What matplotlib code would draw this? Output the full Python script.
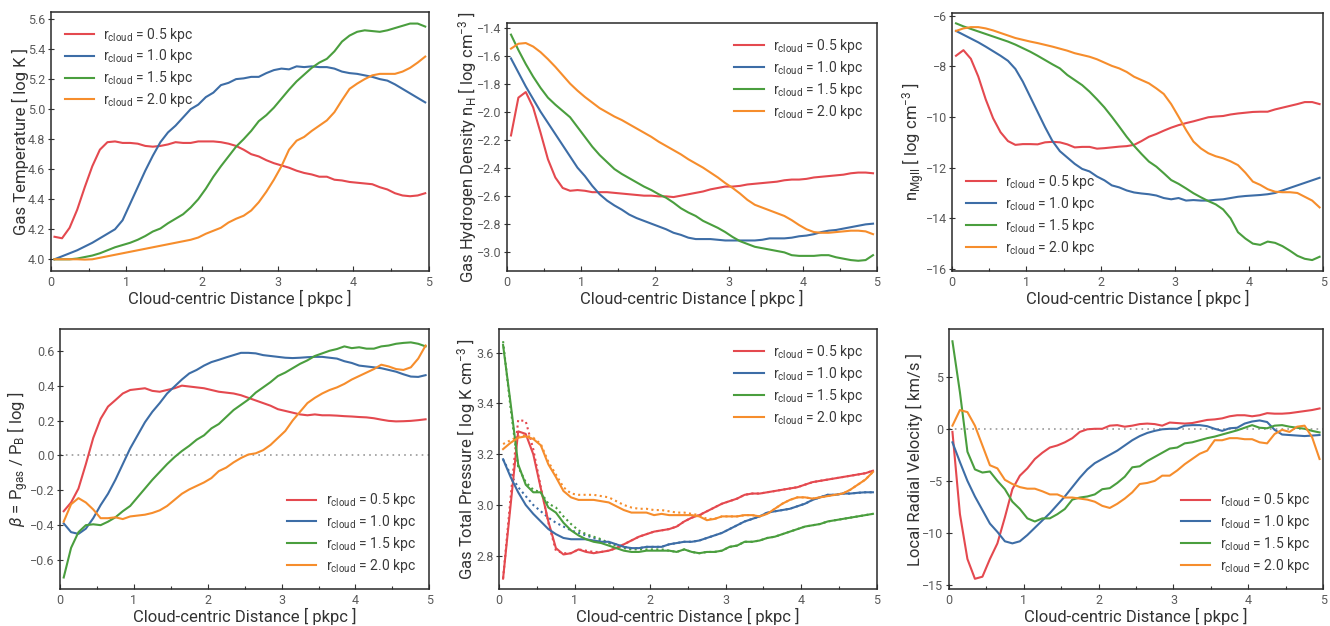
import numpy as np
import matplotlib
matplotlib.use("Agg")
import matplotlib.pyplot as plt

plt.rcParams['font.family'] = ['Roboto', 'DejaVu Sans']
plt.rcParams['font.weight'] = 'light'
plt.rcParams['mathtext.fontset'] = 'custom'
plt.rcParams['mathtext.rm'] = 'Roboto:regular'
plt.rcParams['mathtext.it'] = 'Roboto:italic:regular'
plt.rcParams['mathtext.bf'] = 'Roboto:bold'

# radial bin centres [pkpc]
dist = np.round(np.arange(0.05, 5.0, 0.1), 2)

labels = [r"r$_{\rm cloud}$ = 0.5 kpc", r"r$_{\rm cloud}$ = 1.0 kpc",
          r"r$_{\rm cloud}$ = 1.5 kpc", r"r$_{\rm cloud}$ = 2.0 kpc"]
colors = ['#E4494F', '#3D6DA6', '#4A9E3E', '#F68D2C']

# ---------------- Gas temperature [log K]
temp_05 = [4.15, 4.14, 4.21, 4.33, 4.48, 4.62, 4.73, 4.78, 4.785, 4.775, 4.775, 4.77, 4.755, 4.75, 4.755,
           4.765, 4.78, 4.775, 4.775, 4.785, 4.785, 4.785, 4.78, 4.77, 4.755, 4.73, 4.70, 4.685, 4.66, 4.64,
           4.625, 4.61, 4.59, 4.575, 4.565, 4.55, 4.55, 4.53, 4.525, 4.515, 4.51, 4.505, 4.50, 4.48, 4.465,
           4.44, 4.425, 4.42, 4.425, 4.44]
temp_10 = [4.0, 4.02, 4.04, 4.06, 4.085, 4.11, 4.14, 4.17, 4.20, 4.26, 4.37, 4.48, 4.59, 4.69, 4.78,
           4.845, 4.89, 4.945, 5.0, 5.03, 5.08, 5.11, 5.16, 5.175, 5.20, 5.205, 5.215, 5.215, 5.24, 5.26,
           5.27, 5.265, 5.285, 5.28, 5.285, 5.28, 5.28, 5.27, 5.25, 5.24, 5.235, 5.225, 5.215, 5.20, 5.19,
           5.165, 5.135, 5.105, 5.075, 5.045]
temp_15 = [4.0, 4.0, 4.0, 4.005, 4.015, 4.025, 4.04, 4.06, 4.08, 4.095, 4.11, 4.13, 4.155, 4.185, 4.205,
           4.24, 4.27, 4.30, 4.345, 4.40, 4.47, 4.55, 4.62, 4.685, 4.75, 4.80, 4.855, 4.92, 4.96, 5.01,
           5.07, 5.13, 5.185, 5.23, 5.275, 5.31, 5.335, 5.385, 5.45, 5.49, 5.515, 5.525, 5.52, 5.515, 5.525,
           5.54, 5.555, 5.57, 5.57, 5.55]
temp_20 = [4.0, 4.0, 4.0, 4.0, 3.998, 4.0, 4.01, 4.02, 4.03, 4.04, 4.05, 4.06, 4.07, 4.08, 4.09,
           4.10, 4.11, 4.12, 4.13, 4.145, 4.17, 4.19, 4.21, 4.245, 4.27, 4.29, 4.325, 4.38, 4.45, 4.53,
           4.62, 4.73, 4.79, 4.815, 4.855, 4.89, 4.925, 4.98, 5.06, 5.135, 5.17, 5.20, 5.225, 5.235, 5.235,
           5.235, 5.25, 5.275, 5.31, 5.35]

# ---------------- Gas hydrogen density [log cm^-3]
dens_05 = [-2.17, -1.90, -1.86, -1.97, -2.15, -2.34, -2.47, -2.545, -2.565, -2.56, -2.565, -2.575, -2.575,
           -2.575, -2.58, -2.585, -2.59, -2.595, -2.60, -2.60, -2.605, -2.605, -2.61, -2.60, -2.59, -2.58,
           -2.57, -2.555, -2.545, -2.535, -2.535, -2.53, -2.52, -2.515, -2.51, -2.505, -2.50, -2.49, -2.485,
           -2.485, -2.48, -2.47, -2.465, -2.46, -2.455, -2.45, -2.44, -2.435, -2.435, -2.44]
dens_10 = [-1.62, -1.72, -1.82, -1.91, -2.00, -2.08, -2.16, -2.24, -2.32, -2.40, -2.46, -2.53, -2.59,
           -2.635, -2.67, -2.70, -2.735, -2.76, -2.78, -2.80, -2.82, -2.84, -2.865, -2.88, -2.90, -2.91,
           -2.91, -2.91, -2.915, -2.92, -2.92, -2.92, -2.92, -2.92, -2.915, -2.905, -2.905, -2.905, -2.90,
           -2.89, -2.885, -2.875, -2.86, -2.85, -2.845, -2.835, -2.825, -2.815, -2.805, -2.80]
dens_15 = [-1.45, -1.56, -1.66, -1.75, -1.83, -1.90, -1.95, -1.995, -2.04, -2.11, -2.18, -2.25, -2.31,
           -2.36, -2.41, -2.445, -2.475, -2.505, -2.535, -2.56, -2.59, -2.615, -2.65, -2.69, -2.72, -2.745,
           -2.78, -2.805, -2.83, -2.86, -2.895, -2.925, -2.945, -2.965, -2.975, -2.985, -2.995, -3.005,
           -3.025, -3.03, -3.03, -3.03, -3.025, -3.025, -3.04, -3.05, -3.06, -3.065, -3.06, -3.025]
dens_20 = [-1.55, -1.515, -1.51, -1.535, -1.575, -1.625, -1.68, -1.74, -1.80, -1.85, -1.895, -1.935,
           -1.975, -2.005, -2.035, -2.06, -2.09, -2.12, -2.15, -2.18, -2.215, -2.245, -2.275, -2.305, -2.34,
           -2.37, -2.40, -2.435, -2.47, -2.51, -2.545, -2.585, -2.63, -2.665, -2.685, -2.705, -2.725, -2.745,
           -2.775, -2.81, -2.84, -2.86, -2.865, -2.865, -2.86, -2.855, -2.85, -2.85, -2.855, -2.875]

# ---------------- MgII number density [log cm^-3]
mg_05 = [-7.58, -7.36, -7.7, -8.4, -9.3, -10.05, -10.6, -10.95, -11.1, -11.07, -11.07, -11.08, -11.0,
         -10.98, -11.0, -11.08, -11.2, -11.18, -11.18, -11.25, -11.23, -11.2, -11.17, -11.15, -11.1, -10.95,
         -10.78, -10.67, -10.54, -10.42, -10.32, -10.24, -10.17, -10.09, -10.01, -9.98, -9.96, -9.9, -9.86,
         -9.83, -9.8, -9.79, -9.79, -9.7, -9.63, -9.56, -9.49, -9.41, -9.41, -9.49]
mg_10 = [-6.6, -6.75, -6.9, -7.05, -7.22, -7.4, -7.58, -7.78, -8.1, -8.6, -9.2, -9.8, -10.4, -10.95,
         -11.35, -11.6, -11.85, -12.05, -12.15, -12.35, -12.5, -12.7, -12.78, -12.9, -12.98, -13.02, -13.05,
         -13.1, -13.2, -13.25, -13.2, -13.3, -13.28, -13.3, -13.3, -13.27, -13.25, -13.2, -13.15, -13.12,
         -13.1, -13.08, -13.05, -13.0, -12.9, -12.8, -12.7, -12.6, -12.5, -12.4]
mg_15 = [-6.3, -6.42, -6.52, -6.62, -6.72, -6.82, -6.92, -7.02, -7.14, -7.28, -7.42, -7.58, -7.75,
         -7.92, -8.08, -8.34, -8.54, -8.74, -9.0, -9.3, -9.62, -9.99, -10.38, -10.78, -11.14, -11.46, -11.76,
         -11.96, -12.22, -12.49, -12.64, -12.82, -13.01, -13.17, -13.32, -13.45, -13.65, -14.0, -14.55,
         -14.8, -15.0, -15.05, -14.92, -14.97, -15.1, -15.28, -15.48, -15.6, -15.65, -15.52]
mg_20 = [-6.6, -6.5, -6.45, -6.45, -6.5, -6.58, -6.68, -6.78, -6.88, -6.95, -7.02, -7.08, -7.15, -7.22,
         -7.3, -7.38, -7.48, -7.55, -7.62, -7.72, -7.85, -7.98, -8.08, -8.22, -8.41, -8.54, -8.67, -8.87,
         -9.09, -9.49, -9.99, -10.51, -10.97, -11.24, -11.43, -11.55, -11.63, -11.75, -11.9, -12.2, -12.55,
         -12.68, -12.85, -12.95, -12.97, -12.97, -13.0, -13.15, -13.3, -13.57]

# ---------------- plasma beta [log]
beta_05 = [-0.32, -0.27, -0.19, -0.05, 0.10, 0.21, 0.28, 0.317, 0.355, 0.375, 0.38, 0.385, 0.37, 0.365,
           0.375, 0.385, 0.40, 0.395, 0.39, 0.385, 0.375, 0.365, 0.36, 0.355, 0.345, 0.33, 0.315, 0.30,
           0.285, 0.265, 0.255, 0.245, 0.235, 0.23, 0.235, 0.23, 0.23, 0.228, 0.225, 0.223, 0.22, 0.218,
           0.213, 0.205, 0.198, 0.195, 0.196, 0.198, 0.202, 0.207]
beta_10 = [-0.39, -0.44, -0.45, -0.42, -0.36, -0.285, -0.22, -0.14, -0.05, 0.04, 0.115, 0.19, 0.25,
           0.30, 0.355, 0.395, 0.435, 0.47, 0.49, 0.515, 0.535, 0.548, 0.562, 0.575, 0.588, 0.588, 0.585,
           0.575, 0.57, 0.565, 0.56, 0.558, 0.56, 0.563, 0.565, 0.565, 0.56, 0.555, 0.54, 0.53, 0.515, 0.51,
           0.505, 0.50, 0.49, 0.48, 0.465, 0.452, 0.45, 0.46]
beta_15 = [-0.70, -0.53, -0.44, -0.40, -0.395, -0.40, -0.38, -0.355, -0.32, -0.29, -0.24, -0.19, -0.14,
           -0.095, -0.05, -0.01, 0.025, 0.055, 0.09, 0.115, 0.155, 0.18, 0.22, 0.26, 0.29, 0.32, 0.36, 0.39,
           0.42, 0.455, 0.475, 0.50, 0.525, 0.545, 0.57, 0.585, 0.60, 0.61, 0.625, 0.615, 0.62, 0.612, 0.612,
           0.625, 0.63, 0.64, 0.645, 0.648, 0.64, 0.625]
beta_20 = [-0.38, -0.28, -0.245, -0.27, -0.31, -0.36, -0.36, -0.355, -0.365, -0.35, -0.345, -0.34,
           -0.33, -0.315, -0.29, -0.255, -0.22, -0.195, -0.175, -0.155, -0.13, -0.09, -0.07, -0.04, -0.015,
           0.005, 0.012, 0.03, 0.06, 0.10, 0.14, 0.20, 0.25, 0.30, 0.33, 0.355, 0.375, 0.39, 0.41, 0.435,
           0.455, 0.475, 0.495, 0.52, 0.51, 0.495, 0.49, 0.505, 0.555, 0.63]

# ---------------- gas total pressure [log K cm^-3] (solid) and thermal-only (dotted)
pres_05 = [2.71, 3.0, 3.29, 3.28, 3.20, 3.065, 2.935, 2.83, 2.805, 2.81, 2.825, 2.815, 2.81, 2.815,
           2.82, 2.83, 2.845, 2.86, 2.875, 2.885, 2.895, 2.90, 2.905, 2.915, 2.935, 2.95, 2.96, 2.975, 2.99,
           3.005, 3.015, 3.025, 3.04, 3.045, 3.045, 3.05, 3.055, 3.06, 3.065, 3.07, 3.08, 3.09, 3.095, 3.10,
           3.105, 3.11, 3.115, 3.12, 3.125, 3.135]
pres_10 = [3.18, 3.11, 3.05, 3.00, 2.965, 2.935, 2.905, 2.885, 2.87, 2.865, 2.865, 2.865, 2.86, 2.855,
           2.855, 2.845, 2.835, 2.83, 2.83, 2.835, 2.835, 2.835, 2.845, 2.85, 2.855, 2.855, 2.86, 2.87, 2.88,
           2.89, 2.905, 2.92, 2.935, 2.945, 2.955, 2.97, 2.975, 2.98, 2.985, 2.995, 3.005, 3.02, 3.03, 3.04,
           3.04, 3.045, 3.045, 3.048, 3.05, 3.05]
pres_15 = [3.63, 3.40, 3.16, 3.08, 3.05, 3.05, 2.99, 2.97, 2.93, 2.90, 2.88, 2.865, 2.855, 2.85, 2.84,
           2.83, 2.82, 2.815, 2.815, 2.82, 2.82, 2.82, 2.82, 2.815, 2.825, 2.815, 2.81, 2.815, 2.815, 2.82,
           2.835, 2.84, 2.855, 2.855, 2.86, 2.87, 2.875, 2.885, 2.895, 2.905, 2.915, 2.92, 2.925, 2.935, 2.94,
           2.945, 2.95, 2.955, 2.96, 2.965]
pres_20 = [3.22, 3.245, 3.265, 3.27, 3.26, 3.235, 3.16, 3.11, 3.055, 3.03, 3.02, 3.02, 3.02, 3.015,
           3.01, 2.995, 2.98, 2.97, 2.97, 2.97, 2.96, 2.965, 2.96, 2.96, 2.96, 2.96, 2.955, 2.94, 2.945,
           2.955, 2.955, 2.955, 2.96, 2.96, 2.955, 2.965, 2.985, 3.005, 3.02, 3.03, 3.03, 3.025, 3.03, 3.035,
           3.04, 3.045, 3.06, 3.08, 3.10, 3.13]
ptherm_05 = [2.71, 3.03, 3.335, 3.33, 3.22, 3.07, 2.93, 2.82, 2.81, 2.81, 2.825, 2.82, 2.815, 2.815,
             2.82, 2.83, 2.845, 2.86, 2.875, 2.885, 2.895, 2.90, 2.905, 2.915, 2.935, 2.95, 2.96, 2.975,
             2.99, 3.005, 3.015, 3.025, 3.04, 3.045, 3.045, 3.05, 3.055, 3.06, 3.065, 3.07, 3.08, 3.09,
             3.095, 3.10, 3.105, 3.11, 3.115, 3.12, 3.125, 3.135]
ptherm_10 = [3.18, 3.12, 3.07, 3.035, 3.00, 2.975, 2.95, 2.93, 2.915, 2.90, 2.89, 2.88, 2.87, 2.86,
             2.85, 2.845, 2.835, 2.83, 2.83, 2.835, 2.835, 2.835, 2.845, 2.85, 2.855, 2.855, 2.86, 2.87,
             2.88, 2.89, 2.905, 2.92, 2.935, 2.945, 2.955, 2.97, 2.975, 2.98, 2.985, 2.995, 3.005, 3.02,
             3.03, 3.04, 3.04, 3.045, 3.045, 3.048, 3.05, 3.05]
ptherm_15 = [3.645, 3.38, 3.15, 3.09, 3.06, 3.05, 3.005, 2.99, 2.955, 2.925, 2.90, 2.885, 2.875, 2.865,
             2.85, 2.84, 2.83, 2.825, 2.825, 2.825, 2.825, 2.825, 2.82, 2.815, 2.825, 2.815, 2.81, 2.815,
             2.815, 2.82, 2.835, 2.84, 2.855, 2.855, 2.86, 2.87, 2.875, 2.885, 2.895, 2.905, 2.915, 2.92,
             2.925, 2.935, 2.94, 2.945, 2.95, 2.955, 2.96, 2.965]
ptherm_20 = [3.24, 3.255, 3.27, 3.275, 3.265, 3.24, 3.17, 3.12, 3.07, 3.045, 3.04, 3.04, 3.04, 3.035,
             3.03, 3.015, 3.0, 2.99, 2.985, 2.985, 2.98, 2.98, 2.975, 2.97, 2.97, 2.965, 2.96, 2.945, 2.945,
             2.955, 2.955, 2.955, 2.96, 2.96, 2.955, 2.965, 2.985, 3.005, 3.02, 3.03, 3.03, 3.025, 3.03,
             3.035, 3.04, 3.045, 3.06, 3.08, 3.10, 3.13]

# ---------------- local radial velocity [km/s]
vrad_05 = [-0.3, -8.2, -12.5, -14.4, -14.2, -12.5, -11.0, -8.5, -5.8, -4.5, -3.8, -2.9, -2.3, -1.8,
           -1.6, -1.3, -0.9, -0.3, -0.05, 0.0, 0.0, 0.3, 0.35, 0.2, 0.3, 0.45, 0.5, 0.45, 0.3, 0.6, 0.55,
           0.5, 0.55, 0.7, 0.85, 0.9, 1.0, 1.2, 1.3, 1.3, 1.2, 1.3, 1.5, 1.45, 1.45, 1.5, 1.6, 1.7, 1.8, 1.95]
vrad_10 = [-1.3, -3.2, -5.0, -6.5, -7.8, -9.1, -9.9, -10.8, -11.0, -10.8, -10.2, -9.5, -8.8, -8.1,
           -7.3, -6.5, -5.6, -4.7, -3.9, -3.3, -2.9, -2.5, -2.1, -1.6, -1.1, -0.7, -0.4, -0.2, -0.05, 0.0,
           0.0, 0.3, 0.35, 0.35, 0.25, 0.0, -0.2, 0.05, 0.1, 0.5, 0.7, 0.8, 0.65, -0.1, -0.55, -0.6, -0.65,
           -0.7, -0.65, -0.6]
vrad_15 = [8.4, 3.5, -2.2, -3.9, -4.2, -4.1, -5.0, -5.8, -7.0, -7.7, -8.6, -8.9, -8.6, -8.6, -8.2,
           -7.7, -6.8, -6.6, -6.5, -6.3, -5.8, -5.7, -5.2, -4.6, -3.7, -3.6, -3.1, -2.7, -2.3, -1.9, -1.8,
           -1.4, -1.3, -1.1, -0.9, -0.75, -0.55, -0.35, -0.15, 0.1, 0.35, 0.1, 0.05, 0.3, 0.35, 0.2, 0.1, 0.0,
           -0.2, -0.35]
vrad_20 = [0.3, 1.8, 1.6, 0.3, -1.6, -3.5, -3.8, -4.9, -5.3, -5.6, -5.75, -5.75, -6.0, -6.3, -6.3,
           -6.6, -6.6, -6.7, -6.8, -7.0, -7.4, -7.6, -7.2, -6.7, -6.1, -5.3, -5.2, -5.0, -4.5, -4.5, -4.0,
           -3.4, -2.9, -2.4, -2.1, -1.1, -1.1, -0.9, -0.9, -1.0, -1.0, -1.3, -1.4, -0.5, -0.1, -0.3, 0.2,
           0.3, -0.8, -2.9]

W, H = 1330, 626
fig = plt.figure(figsize=(W / 100, H / 100), dpi=100)


def make_ax(l, r, t, b):
    return fig.add_axes([l / W, 1 - b / H, (r - l) / W, (b - t) / H])


label_col = '#333333'
legend_col = '#3a3a3a'
tick_col = '#5a5a5a'


def style(ax, ylabel, ylim, yticks, legend_loc, yticklabels=None):
    ax.set_xlim(0, 5)
    ax.set_ylim(*ylim)
    ax.set_xticks([0, 1, 2, 3, 4, 5])
    ax.set_xticks([0.5, 1.5, 2.5, 3.5, 4.5], minor=True)
    ax.set_yticks(yticks)
    if yticklabels is not None:
        ax.set_yticklabels(yticklabels)
    ax.tick_params(axis='x', which='major', direction='in', length=3.5, width=0.8,
                   labelsize=9, labelcolor=tick_col, color='#333333', pad=3.5)
    ax.tick_params(axis='x', which='minor', direction='in', length=2.5, width=0.8, color='#333333')
    ax.tick_params(axis='y', which='major', direction='inout', length=4, width=0.8,
                   labelsize=9, labelcolor=tick_col, color='#333333', pad=2)
    for t in ax.get_xticklabels() + ax.get_yticklabels():
        t.set_fontweight('normal')
    for sp in ax.spines.values():
        sp.set_color('#2a2a2a')
        sp.set_linewidth(1.1)
    ax.set_xlabel('Cloud-centric Distance [ pkpc ]', fontsize=12, color=label_col, labelpad=1)
    ax.set_ylabel(ylabel, fontsize=12, color=label_col, labelpad=-1)
    leg = ax.legend(loc=legend_loc, frameon=False, handlelength=2.15,
                    handletextpad=0.65, labelspacing=0.28, borderaxespad=0.6,
                    prop={'size': 10, 'weight': 'normal'})
    for t in leg.get_texts():
        t.set_color(legend_col)


lw = 1.5
zero_ls = (0, (1, 2.5))

# Panel 1 - temperature
ax = make_ax(50.7, 429, 11.7, 271)
for y, c, lab in zip([temp_05, temp_10, temp_15, temp_20], colors, labels):
    ax.plot(dist, y, color=c, lw=lw, label=lab)
style(ax, 'Gas Temperature [ log K ]', (3.922, 5.649), [4.0, 4.2, 4.4, 4.6, 4.8, 5.0, 5.2, 5.4, 5.6], 'upper left',
      ['4.0', '4.2', '4.4', '4.6', '4.8', '5.0', '5.2', '5.4', '5.6'])

# Panel 2 - hydrogen density
ax = make_ax(507.3, 876.7, 23.3, 271)
for y, c, lab in zip([dens_05, dens_10, dens_15, dens_20], colors, labels):
    ax.plot(dist, y, color=c, lw=lw, label=lab)
style(ax, r'Gas Hydrogen Density n$_{\rm H}$ [ log cm$^{-3}$ ]', (-3.138, -1.369),
      [-3.0, -2.8, -2.6, -2.4, -2.2, -2.0, -1.8, -1.6, -1.4], 'upper right',
      ['\u22123.0', '\u22122.8', '\u22122.6', '\u22122.4', '\u22122.2', '\u22122.0', '\u22121.8',
       '\u22121.6', '\u22121.4'])

# Panel 3 - MgII density
ax = make_ax(952.3, 1323.3, 12.7, 270.7)
for y, c, lab in zip([mg_05, mg_10, mg_15, mg_20], colors, labels):
    ax.plot(dist, y, color=c, lw=lw, label=lab)
style(ax, r'n$_{\rm MgII}$ [ log cm$^{-3}$ ]', (-16.07, -5.88), [-16, -14, -12, -10, -8, -6], 'lower left',
      ['\u221216', '\u221214', '\u221212', '\u221210', '\u22128', '\u22126'])

# Panel 4 - plasma beta
ax = make_ax(60, 429.3, 329.3, 589)
ax.axhline(0, color='#999999', lw=1.2, ls=zero_ls, zorder=1)
for y, c, lab in zip([beta_05, beta_10, beta_15, beta_20], colors, labels):
    ax.plot(dist, y, color=c, lw=lw, label=lab)
style(ax, r'$\beta$ = P$_{\rm gas}$ / P$_{\rm B}$ [ log ]', (-0.766, 0.723),
      [-0.6, -0.4, -0.2, 0.0, 0.2, 0.4, 0.6], 'lower right',
      ['\u22120.6', '\u22120.4', '\u22120.2', '0.0', '0.2', '0.4', '0.6'])

# Panel 5 - total pressure
ax = make_ax(499.3, 876.7, 329.3, 589)
for y, c in zip([ptherm_05, ptherm_10, ptherm_15, ptherm_20], colors):
    ax.plot(dist, y, color=c, lw=lw, ls=(0, (1, 1.6)))
for y, c, lab in zip([pres_05, pres_10, pres_15, pres_20], colors, labels):
    ax.plot(dist, y, color=c, lw=lw, label=lab)
style(ax, r'Gas Total Pressure [ log K cm$^{-3}$ ]', (2.669, 3.692), [2.8, 3.0, 3.2, 3.4, 3.6], 'upper right',
      ['2.8', '3.0', '3.2', '3.4', '3.6'])

# Panel 6 - radial velocity
ax = make_ax(948.7, 1323.3, 329.3, 589)
ax.axhline(0, color='#999999', lw=1.2, ls=zero_ls, zorder=1)
for y, c, lab in zip([vrad_05, vrad_10, vrad_15, vrad_20], colors, labels):
    ax.plot(dist, y, color=c, lw=lw, label=lab)
style(ax, 'Local Radial Velocity [ km/s ]', (-15.38, 9.55), [-15, -10, -5, 0, 5], 'lower right',
      ['\u221215', '\u221210', '\u22125', '0', '5'])

fig.savefig('out.png', dpi=100)
